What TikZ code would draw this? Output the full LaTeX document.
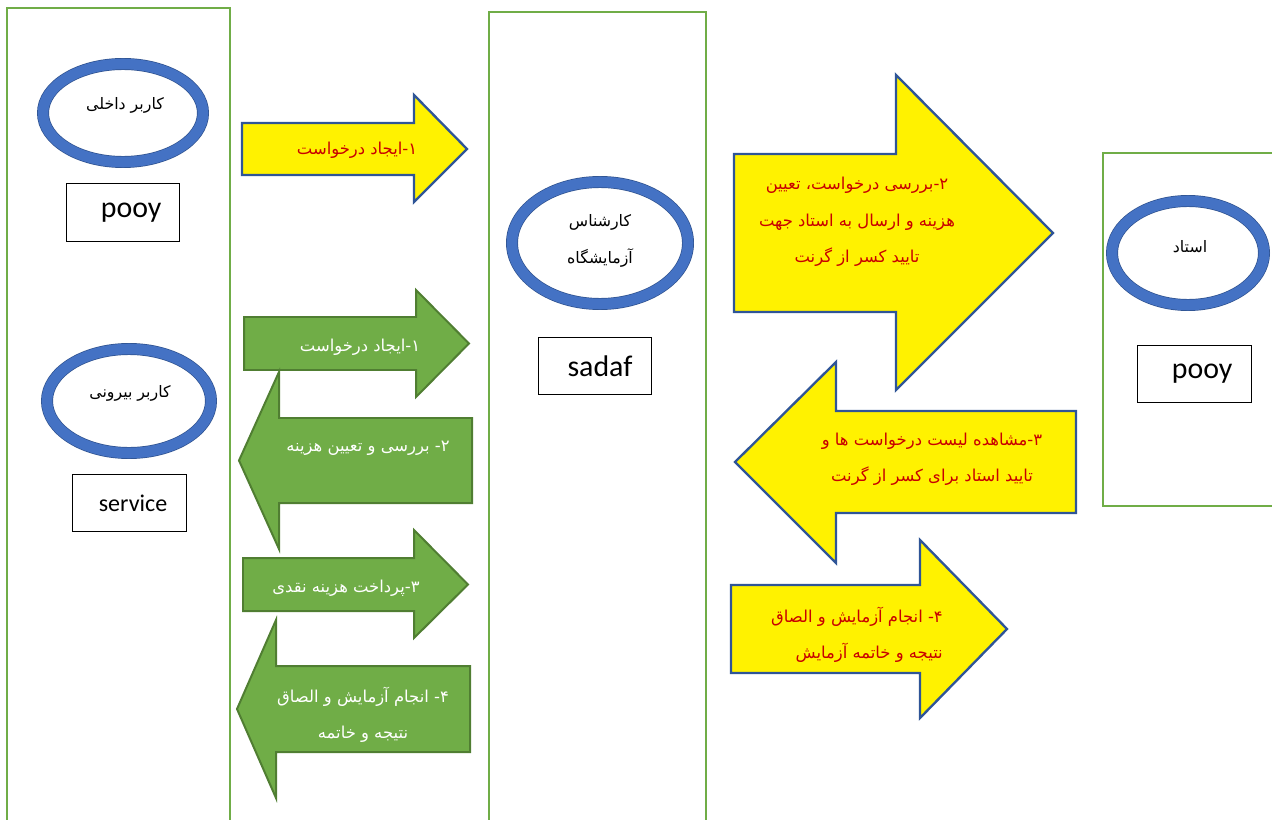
\documentclass[tikz,border=0pt]{standalone}
\usepackage{fontspec}
\setmainfont{Carlito}
\newfontfamily\arabicfont[Script=Arabic]{DejaVu Sans}
\TeXXeTstate=1
\usetikzlibrary{calc}
\definecolor{colgreen}{HTML}{70AD47}
\definecolor{gedge}{HTML}{507E32}
\definecolor{yedge}{HTML}{2F5597}
\definecolor{ringblue}{HTML}{4472C4}
\definecolor{ringedge}{HTML}{2F528F}
\definecolor{redtext}{RGB}{200,0,0}
\def\blockarrow[#1](#2:#3:#4:#5)(#6:#7:#8){\draw[#1] (#2,#4) -- (#3,#4) -- (#3,#6) -- (#8,{(#4+#5)/2}) -- (#3,#7) -- (#3,#5) -- (#2,#5) -- cycle;}
\newcommand\fa[1]{{\arabicfont\beginR #1\endR}}
\tikzset{
	column/.style={draw=colgreen, line width=2pt},
	ring/.style={draw=ringedge, line width=0.6pt, double=ringblue, double distance=9pt},
	namebox/.style={draw=black, line width=0.8pt, minimum width=97pt, minimum height=49pt, inner sep=0pt, font=\fontsize{25.5}{28}\selectfont},
	yarrow/.style={fill=yellow, draw=yedge, line width=2pt},
	garrow/.style={fill=colgreen, draw=gedge, line width=1.7pt},
	rolelabel/.style={font=\fontsize{13.5}{15}\selectfont, inner sep=0pt},
	ylabel/.style={text=redtext, align=center, inner sep=0pt, font=\fontsize{14}{31}\selectfont},
	glabel/.style={text=white, align=center, inner sep=0pt, font=\fontsize{14}{31}\selectfont}
}

\begin{document}
\begin{tikzpicture}[x=0.03cm, y=-0.03cm]
		%%%%% START %%%%%
		\useasboundingbox (0, 0) rectangle (1272, 819);
		
		\draw[column] (7, 8) rectangle (230, 830);
		\draw[column] (489, 12) rectangle (706, 830);
		\draw[column] (1103, 153) rectangle (1285, 506);
		
		\draw[ring] (123, 113) ellipse [x radius=80, y radius=49];
		\draw[ring] (129, 401) ellipse [x radius=82, y radius=52];
		\draw[ring] (600, 243) ellipse [x radius=88, y radius=61];
		\draw[ring] (1188, 253) ellipse [x radius=76, y radius=52];
		
		\node[rolelabel] (inneruser) at (125, 105) {\fa{کاربر داخلی}};
		\node[rolelabel] (outeruser) at (130, 393) {\fa{کاربر بیرونی}};
		\node[rolelabel, align=center, font=\fontsize{13.5}{32}\selectfont] (labexpert) at (600, 241) {\fa{کارشناس}\\\fa{آزمایشگاه}};
		\node[rolelabel] (professor) at (1190, 247) {\fa{استاد}};
		
		\node[namebox] (pooyleft) at (123, 212.5) {\hspace{14pt}pooy};
		\node[namebox, font=\fontsize{20.5}{24}\selectfont] (service) at (129.5, 503) {\hspace{6pt}service};
		\node[namebox] (sadaf) at (595, 366) {\hspace{8.5pt}sadaf};
		\node[namebox] (pooyright) at (1194.5, 374) {\hspace{13pt}pooy};
		
		% internal user
		\blockarrow[yarrow](242:414:123:175)(95:202:467);
		\node[ylabel] (yone) at (357, 150) {\fa{۱-ایجاد درخواست}};
		
		% outside user
		\blockarrow[garrow](244:416:317:370)(290:397:469);
		\node[glabel] (gone) at (360, 347) {\fa{۱-ایجاد درخواست}};
		\blockarrow[garrow](472:279:418:503)(372:549:239);
		\node[glabel] (gtwo) at (368, 448) {\fa{۲- بررسی و تعیین هزینه}};
		\blockarrow[garrow](243:414:558:611)(530:638:468);
		\node[glabel] (gthree) at (346, 588) {\fa{۳-پرداخت هزینه نقدی}};
		\blockarrow[garrow](470:276:666:752)(620:798:237);
		\node[glabel] (gfour) at (363, 715) {\fa{۴- انجام آزمایش و الصاق}\\\fa{نتیجه و خاتمه}};
		
		% expert and professor
		\blockarrow[yarrow](734:896:154:312)(75:390:1053);
		\node[ylabel] (ytwo) at (857, 222) {\fa{۲-بررسی درخواست، تعیین}\\\fa{هزینه و ارسال به استاد جهت}\\\fa{تایید کسر از گرنت}};
		\blockarrow[yarrow](1076:836:411:513)(362:563:735);
		\node[ylabel] (ythree) at (932, 459) {\fa{۳-مشاهده لیست درخواست ها و}\\\fa{تایید استاد برای کسر از گرنت}};
		\blockarrow[yarrow](731:920:585:673)(540:718:1007);
		\node[ylabel, align=right, anchor=east] (yfour) at (943, 635) {\fa{۴- انجام آزمایش و الصاق}\\\fa{نتیجه و خاتمه آزمایش}};
		
		%%%%% END %%%%%
	\end{tikzpicture}
\end{document}
